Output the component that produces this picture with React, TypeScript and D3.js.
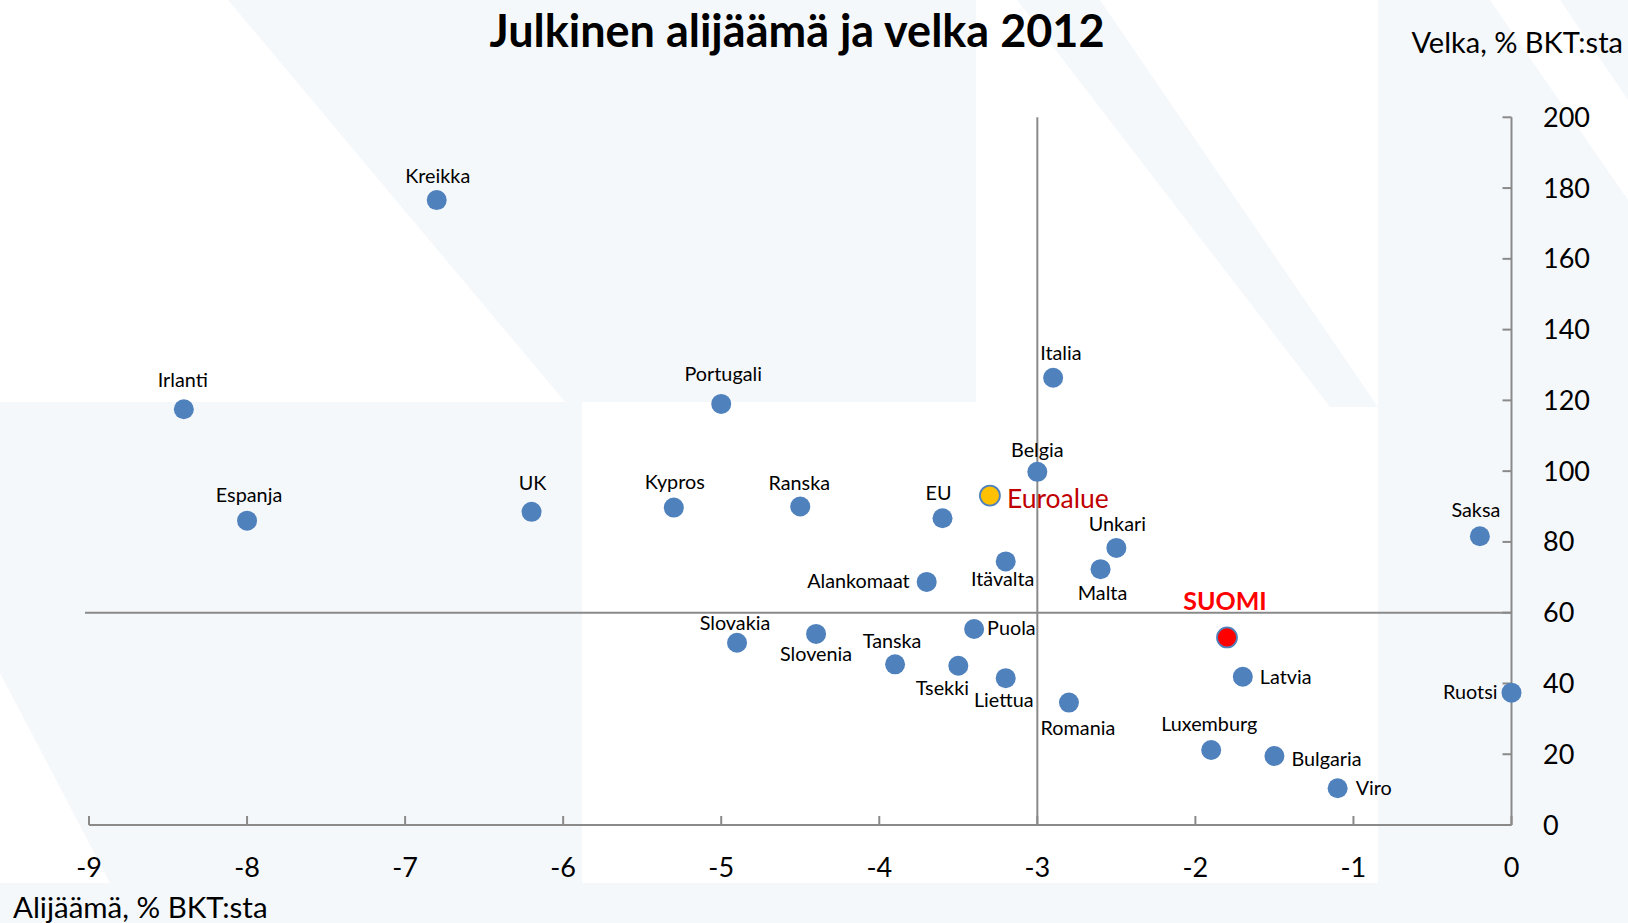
import React from 'react';
import * as d3 from 'd3';

// deficit (% of GDP) vs debt (% of GDP), 2012
const countries = ['Kreikka', 'Irlanti', 'Portugali', 'Italia', 'Belgia', 'Espanja', 'UK', 'Kypros', 'Ranska', 'Slovakia', 'Slovenia', 'EU', 'Euroalue', 'Unkari', 'Itävalta', 'Malta', 'Alankomaat', 'Saksa', 'SUOMI', 'Puola', 'Tanska', 'Tsekki', 'Liettua', 'Romania', 'Latvia', 'Ruotsi', 'Luxemburg', 'Bulgaria', 'Viro'];
const deficit = [-6.8, -8.4, -5.0, -2.9, -3.0, -8.0, -6.2, -5.3, -4.5, -4.9, -4.4, -3.6, -3.3, -2.5, -3.2, -2.6, -3.7, -0.2, -1.8, -3.4, -3.9, -3.5, -3.2, -2.8, -1.7, 0.0, -1.9, -1.5, -1.1];
const debt = [176.6, 117.5, 119.0, 126.4, 99.8, 86.0, 88.5, 89.7, 90.0, 51.5, 54.0, 86.7, 93.1, 78.3, 74.5, 72.3, 68.7, 81.6, 53.0, 55.4, 45.4, 45.0, 41.5, 34.6, 41.9, 37.4, 21.2, 19.5, 10.4];

const xTicks = [-9, -8, -7, -6, -5, -4, -3, -2, -1, 0];
const yTicks = [0, 20, 40, 60, 80, 100, 120, 140, 160, 180, 200];
const refDeficit = -3;
const refDebt = 60;

const title = 'Julkinen alijäämä ja velka 2012';
const xTitle = 'Alijäämä, % BKT:sta';
const yTitle = 'Velka, % BKT:sta';

// label placement: [dx, dy, anchor]
const labelPos: Record<string, [number, number, string]> = {
  Kreikka: [1, -17, 'middle'],
  Irlanti: [-1, -22, 'middle'],
  Portugali: [2, -23, 'middle'],
  Italia: [-13, -18, 'start'],
  Belgia: [0, -15, 'middle'],
  Espanja: [2, -19, 'middle'],
  UK: [1, -22, 'middle'],
  Kypros: [1, -19, 'middle'],
  Ranska: [-1, -17, 'middle'],
  Slovakia: [-2, -13, 'middle'],
  Slovenia: [0, 27, 'middle'],
  EU: [-4, -18, 'middle'],
  Euroalue: [17, 12, 'start'],
  Unkari: [1, -17, 'middle'],
  'Itävalta': [-3, 25, 'middle'],
  Malta: [2, 31, 'middle'],
  Alankomaat: [-17, 6, 'end'],
  Saksa: [-4, -19, 'middle'],
  SUOMI: [-2, -27, 'middle'],
  Puola: [13, 6, 'start'],
  Tanska: [-3, -16, 'middle'],
  Tsekki: [-16, 29, 'middle'],
  Liettua: [-2, 29, 'middle'],
  Romania: [9, 32, 'middle'],
  Latvia: [17, 7, 'start'],
  Ruotsi: [-14, 6, 'end'],
  Luxemburg: [-2, -19, 'middle'],
  Bulgaria: [17, 10, 'start'],
  Viro: [18, 7, 'start'],
};

const W = 1628;
const H = 923;
const FONT = 'Lato, "Open Sans", sans-serif';
const LIGHT = '#f5f8fb';
const AXIS = '#8a8a8a';
const BLUE = '#4f81bd';

export default function App() {
  const x = d3.scaleLinear().domain([-9, 0]).range([89, 1511.5]);
  const y = d3.scaleLinear().domain([0, 200]).range([825, 117.3]);

  const points = countries.map((c, i) => ({ name: c, dx: deficit[i], debt: debt[i] }));

  return (
    <div style={{ position: 'absolute', left: 0, top: 0 }}>
      <svg width={W} height={H} style={{ display: 'block', fontFamily: FONT }}>
        {/* faint decorative background */}
        <rect width={W} height={H} fill="#ffffff" />
        <polygon points="228,0 976,0 976,402 565,402" fill={LIGHT} />
        <polygon points="1017,0 1100,0 1378,407 1330,407" fill={LIGHT} />
        <polygon points="1378,0 1628,0 1628,923 1378,923" fill={LIGHT} />
        <polygon points="1490,0 1560,0 1628,100 1628,200" fill="#ffffff" />
        <polygon points="0,402 582,402 582,923 0,923" fill={LIGHT} />
        <polygon points="0,673 131,923 0,923" fill="#ffffff" />
        <rect x={0} y={883} width={W} height={40} fill={LIGHT} />

        <text x={797} y={47} textAnchor="middle" fontSize={45} fontWeight={700} fill="#000">{title}</text>
        <text x={1623} y={53} textAnchor="end" fontSize={29} fill="#000">{yTitle}</text>
        <text x={13} y={918} fontSize={29.5} fill="#000">{xTitle}</text>

        {/* reference lines */}
        <line x1={x(-9) - 4} x2={x(0)} y1={y(refDebt)} y2={y(refDebt)} stroke={AXIS} strokeWidth={2} />
        <line x1={x(refDeficit)} x2={x(refDeficit)} y1={y(200)} y2={y(0)} stroke={AXIS} strokeWidth={2} />

        {/* x axis */}
        <line x1={x(-9)} x2={x(0)} y1={y(0)} y2={y(0)} stroke={AXIS} strokeWidth={2} />
        {xTicks.map(t => (
          <g key={'xt' + t}>
            <line x1={x(t)} x2={x(t)} y1={y(0)} y2={y(0) - 9} stroke={AXIS} strokeWidth={2} />
            <text x={x(t)} y={877} textAnchor="middle" fontSize={27} fill="#000">{t === 0 ? '0' : '-' + Math.abs(t)}</text>
          </g>
        ))}

        {/* y axis */}
        <line x1={x(0)} x2={x(0)} y1={y(200)} y2={y(0)} stroke={AXIS} strokeWidth={2} />
        {yTicks.map(t => (
          <g key={'yt' + t}>
            <line x1={x(0) - 9} x2={x(0)} y1={y(t)} y2={y(t)} stroke={AXIS} strokeWidth={2} />
            <text x={1543} y={y(t) + 9.5} fontSize={27} fill="#000">{t}</text>
          </g>
        ))}

        {/* points */}
        {points.map(p => {
          const fill = p.name === 'SUOMI' ? '#ff0000' : p.name === 'Euroalue' ? '#ffc000' : BLUE;
          const special = p.name === 'SUOMI' || p.name === 'Euroalue';
          return (
            <circle key={p.name} cx={x(p.dx)} cy={y(p.debt)} r={10} fill={fill}
              stroke={special ? BLUE : 'none'} strokeWidth={special ? 1.8 : 0} />
          );
        })}

        {/* labels */}
        {points.map(p => {
          const [ddx, ddy, anchor] = labelPos[p.name];
          const isSuomi = p.name === 'SUOMI';
          const isEuro = p.name === 'Euroalue';
          return (
            <text key={'l' + p.name} x={x(p.dx) + ddx} y={y(p.debt) + ddy}
              textAnchor={anchor as any}
              fontSize={isEuro ? 26.5 : isSuomi ? 25 : 19.8}
              fontWeight={isSuomi ? 700 : 400}
              fill={isSuomi ? '#ff0000' : isEuro ? '#c00000' : '#000'}>
              {p.name}
            </text>
          );
        })}
      </svg>
    </div>
  );
}
